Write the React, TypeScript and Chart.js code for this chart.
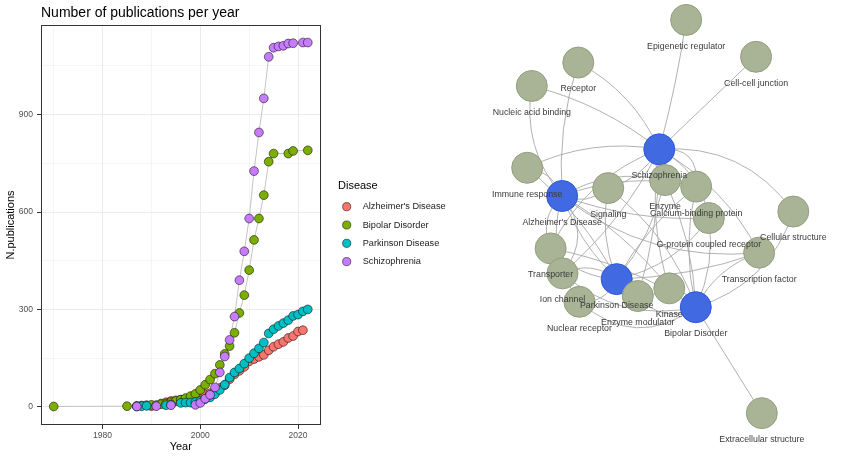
import React, { useEffect, useRef } from 'react';
import { Chart, registerables } from 'chart.js';

Chart.register(...registerables);

const FONT = '"Liberation Sans", Arial, Helvetica, sans-serif';

// ---------- Publications per year ----------
const ALZ_YEARS = [1990, 1991, 1992, 1993, 1994, 1995, 1996, 1997, 1998, 1999, 2000, 2001, 2002, 2003, 2004, 2005, 2006, 2007, 2008, 2009, 2010, 2011, 2012, 2013, 2014, 2015, 2016, 2017, 2018, 2019, 2020, 2021];
const ALZ_COUNTS = [2, 4, 10, 14, 18, 20, 22, 24, 27, 30, 34, 39, 42, 47, 58, 67, 85, 100, 111, 123, 140, 147, 154, 160, 174, 185, 193, 200, 212, 218, 232, 236];

const BIP_YEARS = [1970, 1985, 1987, 1988, 1989, 1990, 1991, 1992, 1993, 1994, 1995, 1996, 1997, 1998, 1999, 2000, 2001, 2002, 2003, 2004, 2005, 2006, 2007, 2008, 2009, 2010, 2011, 2012, 2013, 2014, 2015, 2018, 2019, 2022];
const BIP_COUNTS = [1, 2, 3, 4, 5, 6, 5, 8, 10, 14, 18, 22, 27, 33, 40, 52, 68, 84, 102, 129, 163, 187, 228, 289, 344, 421, 514, 580, 652, 755, 780, 780, 788, 790];

const PARK_YEARS = [1987, 1988, 1989, 1993, 1994, 1996, 1997, 1998, 1999, 2000, 2001, 2002, 2003, 2004, 2005, 2006, 2007, 2008, 2009, 2010, 2011, 2012, 2013, 2014, 2015, 2016, 2017, 2018, 2019, 2020, 2021, 2022];
const PARK_COUNTS = [1, 2, 3, 5, 7, 12, 13, 13, 15, 18, 24, 29, 39, 52, 68, 90, 106, 118, 133, 150, 165, 180, 198, 226, 239, 249, 258, 267, 280, 284, 294, 300];

const SCZ_YEARS = [1987, 1991, 1994, 1999, 2000, 2001, 2002, 2003, 2004, 2005, 2006, 2007, 2008, 2009, 2010, 2011, 2012, 2013, 2014, 2015, 2016, 2017, 2018, 2019, 2021, 2022];
const SCZ_COUNTS = [1, 2, 5, 6, 12, 25, 37, 60, 106, 155, 206, 278, 390, 479, 580, 726, 845, 950, 1078, 1106, 1110, 1112, 1119, 1120, 1122, 1122];

const SERIES_NAMES = ["Alzheimer's Disease", 'Bipolar Disorder', 'Parkinson Disease', 'Schizophrenia'];
const SERIES_YEARS = [ALZ_YEARS, BIP_YEARS, PARK_YEARS, SCZ_YEARS];
const SERIES_COUNTS = [ALZ_COUNTS, BIP_COUNTS, PARK_COUNTS, SCZ_COUNTS];
const SERIES_COLORS = ['#F8766D', '#7CAE00', '#00BFC4', '#C77CFF'];

const X_TICKS = [1970, 1980, 1990, 2000, 2010, 2020];
const X_LABELED = [1980, 2000, 2020];
const Y_TICKS = [0, 150, 300, 450, 600, 750, 900, 1050];
const Y_LABELED = [0, 300, 600, 900];

// ---------- Protein-class network ----------
// Layout coordinates of each node (first four are the diseases)
const NODE_NAMES = [
  'Schizophrenia', "Alzheimer's Disease", 'Parkinson Disease', 'Bipolar Disorder',
  'Epigenetic regulator', 'Cell-cell junction', 'Receptor', 'Nucleic acid binding',
  'Immune response', 'Signaling', 'Enzyme', 'Calcium-binding protein',
  'G-protein coupled receptor', 'Cellular structure', 'Transcription factor', 'Transporter',
  'Ion channel', 'Nuclear receptor', 'Enzyme modulator', 'Kinase', 'Extracellular structure',
];
const NODE_X = [5.19, 2.66, 4.08, 6.14, 5.89, 7.71, 3.08, 1.87, 1.75, 3.86, 5.34, 6.15, 6.48, 8.68, 7.79, 2.36, 2.67, 3.11, 4.63, 5.45, 7.86];
const NODE_Y = [8.09, 6.875, 4.71, 3.98, 11.46, 10.5, 10.35, 9.74, 7.61, 7.08, 7.29, 7.12, 6.3, 6.47, 5.4, 5.51, 4.86, 4.12, 4.27, 4.47, 1.22];
const DISEASE_COUNT = 4;

const EDGE_FROM = [
  'Schizophrenia', 'Schizophrenia', 'Schizophrenia', 'Schizophrenia', 'Schizophrenia',
  'Schizophrenia', 'Schizophrenia', 'Schizophrenia', 'Schizophrenia', 'Schizophrenia',
  'Schizophrenia', 'Schizophrenia', 'Schizophrenia', 'Schizophrenia', 'Schizophrenia',
  "Alzheimer's Disease", "Alzheimer's Disease", "Alzheimer's Disease", "Alzheimer's Disease", "Alzheimer's Disease",
  "Alzheimer's Disease", "Alzheimer's Disease", "Alzheimer's Disease", "Alzheimer's Disease", "Alzheimer's Disease",
  "Alzheimer's Disease", "Alzheimer's Disease", "Alzheimer's Disease",
  'Parkinson Disease', 'Parkinson Disease', 'Parkinson Disease', 'Parkinson Disease', 'Parkinson Disease',
  'Parkinson Disease', 'Parkinson Disease', 'Parkinson Disease', 'Parkinson Disease', 'Parkinson Disease',
  'Parkinson Disease',
  'Bipolar Disorder', 'Bipolar Disorder', 'Bipolar Disorder', 'Bipolar Disorder', 'Bipolar Disorder',
  'Bipolar Disorder', 'Bipolar Disorder', 'Bipolar Disorder', 'Bipolar Disorder', 'Bipolar Disorder',
  'Bipolar Disorder', 'Bipolar Disorder',
];
const EDGE_TO = [
  'Epigenetic regulator', 'Cell-cell junction', 'Receptor', 'Nucleic acid binding', 'Immune response',
  'Signaling', 'Enzyme', 'Calcium-binding protein', 'G-protein coupled receptor', 'Cellular structure',
  'Transcription factor', 'Transporter', 'Ion channel', 'Kinase', 'Enzyme modulator',
  'Receptor', 'Nucleic acid binding', 'Immune response', 'Signaling', 'Enzyme',
  'Calcium-binding protein', 'G-protein coupled receptor', 'Transcription factor', 'Transporter', 'Ion channel',
  'Nuclear receptor', 'Kinase', 'Enzyme modulator',
  'Signaling', 'Enzyme', 'Calcium-binding protein', 'G-protein coupled receptor', 'Transcription factor',
  'Transporter', 'Ion channel', 'Nuclear receptor', 'Kinase', 'Enzyme modulator',
  'Immune response',
  'Extracellular structure', 'Cellular structure', 'Transcription factor', 'G-protein coupled receptor', 'Calcium-binding protein',
  'Enzyme', 'Kinase', 'Enzyme modulator', 'Signaling', 'Ion channel',
  'Nuclear receptor', 'Transporter',
];
// Curvature of each edge, as a fraction of its length
const EDGE_BEND = [
  0.03, 0, 0.17, 0.11, 0.16,
  -0.2, 0.4, -0.6, -0.25, -0.28,
  -0.15, 0.2, -0.1, 0.12, -0.08,
  -0.1, -0.23, 0.3, 0.3, -0.2,
  -0.15, 0.1, 0.2, 0.35, -0.4,
  0.25, -0.1, 0.15,
  -0.15, 0.12, -0.1, 0.2, 0.08,
  -0.2, 0.3, -0.35, 0.4, 0.5,
  0.1,
  0, 0.26, -0.2, 0.15, -0.12,
  0.1, 0.3, -0.4, 0.15, -0.25,
  -0.4, 0.1,
];

const isMajor = (list: number[], v: number) => list.includes(v);

// Panel frame, titles and the fill legend, ggplot style
const ggDecor = {
  id: 'ggDecor',
  afterDraw(chart: any) {
    const { ctx, chartArea: a } = chart;
    ctx.save();
    ctx.strokeStyle = '#333333';
    ctx.lineWidth = 1;
    ctx.strokeRect(Math.round(a.left) + 0.5, Math.round(a.top) + 0.5, Math.round(a.right - a.left) - 1, Math.round(a.bottom - a.top) - 1);

    ctx.fillStyle = '#000000';
    ctx.font = `14px ${FONT}`;
    ctx.textAlign = 'left';
    ctx.textBaseline = 'alphabetic';
    ctx.fillText('Number of publications per year', a.left, 17);

    ctx.font = `11px ${FONT}`;
    ctx.textAlign = 'center';
    ctx.textBaseline = 'middle';
    ctx.fillText('Year', (a.left + a.right) / 2, 447);
    ctx.save();
    ctx.translate(11, (a.top + a.bottom) / 2);
    ctx.rotate(-Math.PI / 2);
    ctx.fillText('N.publications', 0, 0);
    ctx.restore();

    const lx = a.right + 17.5;
    ctx.textAlign = 'left';
    ctx.font = `11px ${FONT}`;
    ctx.fillText('Disease', lx, 186);
    ctx.font = `9.2px ${FONT}`;
    SERIES_NAMES.forEach((name, i) => {
      const y = 206.7 + i * 18.3;
      ctx.beginPath();
      ctx.arc(lx + 8.7, y, 4.1, 0, Math.PI * 2);
      ctx.fillStyle = SERIES_COLORS[i];
      ctx.fill();
      ctx.lineWidth = 0.7;
      ctx.strokeStyle = 'rgba(0,0,0,0.75)';
      ctx.stroke();
      ctx.fillStyle = '#1a1a1a';
      ctx.fillText(name, lx + 24.7, y);
    });
    ctx.restore();
  },
};

function publicationsConfig(): any {
  const lineSets = SERIES_NAMES.map((name, i) => ({
    label: name + ' line',
    data: SERIES_YEARS[i].map((y, j) => ({ x: y, y: SERIES_COUNTS[i][j] })),
    showLine: true,
    borderColor: '#c4c4c4',
    borderWidth: 1,
    pointRadius: 0,
    fill: false,
    order: 10,
  }));
  const pointSets = SERIES_NAMES.map((name, i) => ({
    label: name,
    data: SERIES_YEARS[i].map((y, j) => ({ x: y, y: SERIES_COUNTS[i][j] })),
    showLine: false,
    pointRadius: 4.4,
    pointBackgroundColor: SERIES_COLORS[i],
    pointBorderColor: 'rgba(0,0,0,0.75)',
    pointBorderWidth: 0.7,
    order: 4 - i,
  }));
  const gridFor = (labeled: number[]) => ({
    color: '#ebebeb',
    lineWidth: (c: any) => (c.tick && isMajor(labeled, c.tick.value) ? 1 : 0.5),
    tickColor: (c: any) => (c.tick && isMajor(labeled, c.tick.value) ? '#333333' : 'rgba(0,0,0,0)'),
    tickLength: 4,
    drawTicks: true,
  });
  return {
    type: 'scatter',
    data: { datasets: [...lineSets, ...pointSets] },
    options: {
      responsive: false,
      animation: false,
      devicePixelRatio: 1,
      layout: { autoPadding: false, padding: { top: 25, right: 139.5, left: 0, bottom: 0 } },
      plugins: { legend: { display: false }, tooltip: { enabled: false } },
      scales: {
        x: {
          type: 'linear',
          min: 1967.4,
          max: 2024.6,
          afterBuildTicks: (s: any) => { s.ticks = X_TICKS.map((v) => ({ value: v })); },
          afterFit: (s: any) => { s.height = 35; },
          grid: gridFor(X_LABELED),
          border: { display: false },
          ticks: {
            autoSkip: false,
            maxRotation: 0,
            padding: 2,
            color: '#4d4d4d',
            font: { family: FONT, size: 8.5 },
            callback: (v: number) => (isMajor(X_LABELED, v) ? String(v) : ''),
          },
        },
        y: {
          type: 'linear',
          min: -56,
          max: 1176,
          afterBuildTicks: (s: any) => { s.ticks = Y_TICKS.map((v) => ({ value: v })); },
          afterFit: (s: any) => { s.width = 41; },
          grid: gridFor(Y_LABELED),
          border: { display: false },
          ticks: {
            autoSkip: false,
            padding: 4,
            color: '#4d4d4d',
            font: { family: FONT, size: 8.5 },
            callback: (v: number) => (isMajor(Y_LABELED, v) ? String(v) : ''),
          },
        },
      },
    },
    plugins: [ggDecor],
  };
}

// Curved edges under the nodes, labels above them
const networkDecor = {
  id: 'networkDecor',
  beforeDatasetsDraw(chart: any) {
    const { ctx, scales } = chart;
    const px = (name: string) => {
      const k = NODE_NAMES.indexOf(name);
      return [scales.x.getPixelForValue(NODE_X[k]), scales.y.getPixelForValue(NODE_Y[k])];
    };
    ctx.save();
    ctx.strokeStyle = '#a8a8a8';
    ctx.lineWidth = 0.9;
    EDGE_FROM.forEach((from, i) => {
      const [x1, y1] = px(from);
      const [x2, y2] = px(EDGE_TO[i]);
      const dx = x2 - x1;
      const dy = y2 - y1;
      const b = EDGE_BEND[i];
      const cx = (x1 + x2) / 2 - dy * b;
      const cy = (y1 + y2) / 2 + dx * b;
      ctx.beginPath();
      ctx.moveTo(x1, y1);
      ctx.quadraticCurveTo(cx, cy, x2, y2);
      ctx.stroke();
    });
    ctx.restore();
  },
  afterDatasetsDraw(chart: any) {
    const { ctx, scales } = chart;
    ctx.save();
    ctx.fillStyle = '#3a3a3a';
    ctx.font = `8.8px ${FONT}`;
    ctx.textAlign = 'center';
    ctx.textBaseline = 'middle';
    NODE_NAMES.forEach((name, k) => {
      const x = scales.x.getPixelForValue(NODE_X[k]);
      const y = scales.y.getPixelForValue(NODE_Y[k]);
      ctx.fillText(name, x, y + 26.5);
    });
    ctx.restore();
  },
};

function networkConfig(): any {
  const pts = NODE_NAMES.map((_, k) => ({ x: NODE_X[k], y: NODE_Y[k] }));
  return {
    type: 'scatter',
    data: {
      datasets: [
        {
          label: 'Disease',
          data: pts.slice(0, DISEASE_COUNT),
          pointRadius: 15.5,
          pointBackgroundColor: '#4169e1',
          pointBorderColor: '#2d57d8',
          pointBorderWidth: 1,
          order: 2,
        },
        {
          label: 'Protein class',
          data: pts.slice(DISEASE_COUNT),
          pointRadius: 15.5,
          pointBackgroundColor: '#a9b496',
          pointBorderColor: '#939e80',
          pointBorderWidth: 1,
          order: 1,
        },
      ],
    },
    options: {
      responsive: false,
      animation: false,
      devicePixelRatio: 1,
      layout: { autoPadding: false, padding: 0 },
      plugins: { legend: { display: false }, tooltip: { enabled: false } },
      scales: {
        x: { type: 'linear', min: 0, max: 10, display: false },
        y: { type: 'linear', min: 0, max: 11.979, display: false },
      },
    },
    plugins: [networkDecor],
  };
}

export default function App() {
  const leftRef = useRef<HTMLCanvasElement>(null);
  const rightRef = useRef<HTMLCanvasElement>(null);

  useEffect(() => {
    const pubs = new Chart(leftRef.current as HTMLCanvasElement, publicationsConfig());
    const net = new Chart(rightRef.current as HTMLCanvasElement, networkConfig());
    return () => {
      pubs.destroy();
      net.destroy();
    };
  }, []);

  return (
    <div style={{ position: 'fixed', left: 0, top: 0, width: 844, height: 460, background: '#ffffff', overflow: 'hidden' }}>
      <canvas ref={leftRef} width={460} height={460} style={{ position: 'absolute', left: 0, top: 0, width: 460, height: 460 }} />
      <canvas ref={rightRef} width={384} height={460} style={{ position: 'absolute', left: 460, top: 0, width: 384, height: 460 }} />
    </div>
  );
}
